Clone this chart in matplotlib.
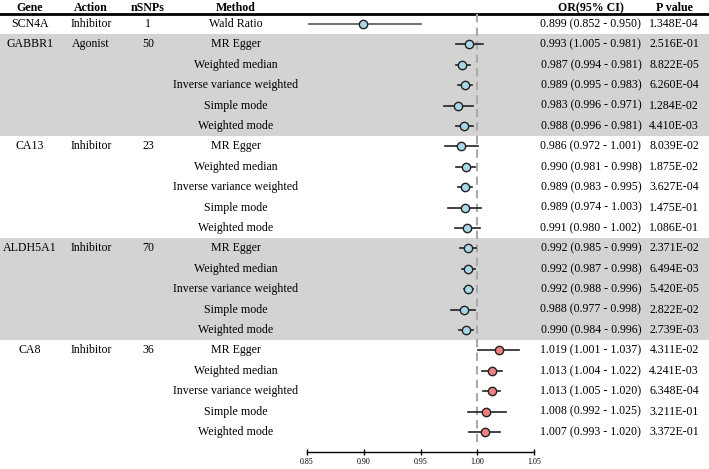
import matplotlib.pyplot as plt
from matplotlib.patches import Rectangle

plt.rcParams['font.family'] = ['Liberation Serif', 'DejaVu Serif']

# -----------------------------
# DATA
# -----------------------------
genes = ["SCN4A", "GABBR1", "CA13", "ALDH5A1", "CA8"]
actions = ["Inhibitor", "Agonist", "Inhibitor", "Inhibitor", "Inhibitor"]
nsnps = [1, 50, 23, 70, 36]
five_methods = ["MR Egger", "Weighted median", "Inverse variance weighted",
                "Simple mode", "Weighted mode"]
methods = [["Wald Ratio"]] + [five_methods] * 4

or_vals = [0.899,
           0.993, 0.987, 0.989, 0.983, 0.988,
           0.986, 0.990, 0.989, 0.989, 0.991,
           0.992, 0.992, 0.992, 0.988, 0.990,
           1.019, 1.013, 1.013, 1.008, 1.007]
# CI bounds in the order printed in the table
ci_a = [0.852,
        1.005, 0.994, 0.995, 0.996, 0.996,
        0.972, 0.981, 0.983, 0.974, 0.980,
        0.985, 0.987, 0.988, 0.977, 0.984,
        1.001, 1.004, 1.005, 0.992, 0.993]
ci_b = [0.950,
        0.981, 0.981, 0.983, 0.971, 0.981,
        1.001, 0.998, 0.995, 1.003, 1.002,
        0.999, 0.998, 0.996, 0.998, 0.996,
        1.037, 1.022, 1.020, 1.025, 1.020]
p_vals = ["1.348E-04",
          "2.516E-01", "8.822E-05", "6.260E-04", "1.284E-02", "4.410E-03",
          "8.039E-02", "1.875E-02", "3.627E-04", "1.475E-01", "1.086E-01",
          "2.371E-02", "6.494E-03", "5.420E-05", "2.822E-02", "2.739E-03",
          "4.311E-02", "4.241E-03", "6.348E-04", "3.211E-01", "3.372E-01"]
shaded_genes = ["GABBR1", "ALDH5A1"]
x_ticks = [0.85, 0.90, 0.95, 1.00, 1.05]

# -----------------------------
# LAYOUT (pixel based)
# -----------------------------
W, H = 709, 469
row0 = 24.0      # y of first row (px)
step = 20.4      # row spacing (px)
y_top = -row0 / step
y_bot = (H - row0) / step
fs = 8.6

fig = plt.figure(figsize=(W / 100, H / 100), dpi=100)
bg = fig.add_axes([0, 0, 1, 1])
bg.set_xlim(0, W)
bg.set_ylim(y_bot, y_top)
bg.axis("off")

# forest axes: 0.85 at 307px, 1.05 at 534px
x0, x1 = 307, 534
ax = fig.add_axes([x0 / W, 0, (x1 - x0) / W, 1])
ax.set_xlim(0.85, 1.05)
ax.set_ylim(y_bot, y_top)
ax.patch.set_alpha(0)

# row bookkeeping
row_gene = []
row_method = []
start_rows = []
r = 0
for g, m in zip(genes, methods):
    start_rows.append(r)
    for mm in m:
        row_gene.append(g)
        row_method.append(mm)
        r += 1
n_rows = r

# shaded bands
for g, s, m in zip(genes, start_rows, methods):
    if g in shaded_genes:
        bg.add_patch(Rectangle((0, s - 0.5), W, len(m), color="#d3d3d3",
                               lw=0, zorder=0))

# header
col_x = {"Gene": 30, "Action": 91, "nSNPs": 148, "Method": 236,
         "OR(95% CI)": 591, "P value": 674}
for name, x in col_x.items():
    bg.text(x, -0.78, name, ha="center", va="center", fontsize=fs,
            fontweight="bold")
bg.plot([0, W], [-0.5, -0.5], color="black", lw=2, zorder=3)

# gene-level columns
for g, a, n, s in zip(genes, actions, nsnps, start_rows):
    bg.text(col_x["Gene"], s, g, ha="center", va="center", fontsize=fs)
    bg.text(col_x["Action"], s, a, ha="center", va="center", fontsize=fs)
    bg.text(col_x["nSNPs"], s, str(n), ha="center", va="center", fontsize=fs)

# row-level columns
for i in range(n_rows):
    bg.text(col_x["Method"], i, row_method[i], ha="center", va="center",
            fontsize=fs)
    txt = f"{or_vals[i]:.3f} ({ci_a[i]:.3f} - {ci_b[i]:.3f})"
    bg.text(col_x["OR(95% CI)"], i, txt, ha="center", va="center", fontsize=fs)
    bg.text(col_x["P value"], i, p_vals[i], ha="center", va="center",
            fontsize=fs)

# reference line
ax.plot([1.0, 1.0], [-0.5, 20.6], color="#aaaaaa", lw=1.5, ls=(0, (4, 2.5)),
        zorder=1)

# forest points
for i in range(n_rows):
    lo, hi = min(ci_a[i], ci_b[i]), max(ci_a[i], ci_b[i])
    lc = "#555555" if row_method[i] == "Wald Ratio" else "#222222"
    ax.plot([lo, hi], [i, i], color=lc, lw=1.2, zorder=2)
    fc = "#f08080" if or_vals[i] > 1 else "#a9d9e8"
    ax.plot(or_vals[i], i, "o", ms=6, mfc=fc, mec="#222222", mew=1.0, zorder=3)

# x axis
for sp in ["top", "right", "left"]:
    ax.spines[sp].set_visible(False)
ax.spines["bottom"].set_position(("data", (452 - row0) / step))
ax.spines["bottom"].set_bounds(0.85, 1.05)
ax.spines["bottom"].set_linewidth(1.0)
ax.set_yticks([])
ax.set_xticks(x_ticks)
ax.set_xticklabels([f"{t:.2f}" for t in x_ticks], fontsize=5.8)
ax.tick_params(axis="x", direction="inout", length=4, width=1.0, pad=2)

fig.savefig("out.png", dpi=100)
